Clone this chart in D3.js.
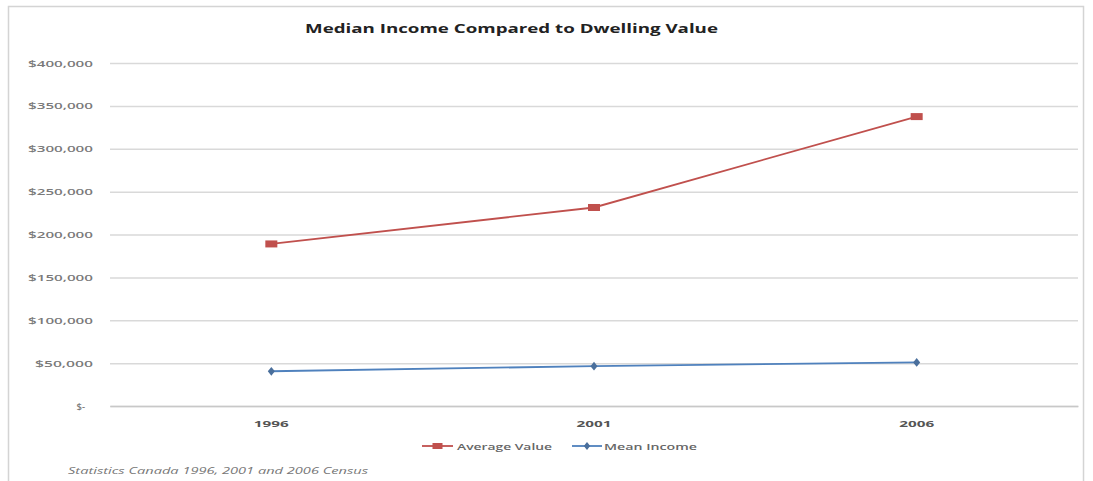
<!DOCTYPE html>
<html>
<head>
<meta charset="utf-8">
<script src="https://cdn.jsdelivr.net/npm/d3@7"></script>
<style>
  html, body { margin: 0; padding: 0; background: #ffffff; }
  svg { display: block; }
  text { font-family: "Open Sans", "Liberation Sans", sans-serif; }
</style>
</head>
<body>
<svg id="chart" width="1093" height="481"></svg>
<script>
const categories = ["1996", "2001", "2006"];
const averageValue = [189000, 231500, 337500];
const meanIncome = [40500, 46500, 50800];
const seriesNames = ["Average Value", "Mean Income"];
const yTicks = [0, 50000, 100000, 150000, 200000, 250000, 300000, 350000, 400000];
const yTickLabels = ["$-", "$50,000", "$100,000", "$150,000", "$200,000", "$250,000", "$300,000", "$350,000", "$400,000"];
const titleText = "Median Income Compared to Dwelling Value";
const sourceText = "Statistics Canada 1996, 2001 and 2006 Census";

const svg = d3.select("#chart");
const W = 1093, H = 481;
const plot = { left: 110, right: 1078, top: 63, bottom: 406 };

// outer chart border
svg.append("rect")
  .attr("x", 8.5).attr("y", 6.5)
  .attr("width", 1075).attr("height", 490)
  .attr("fill", "#ffffff").attr("stroke", "#d4d4d4").attr("stroke-width", 1.5);

const x = d3.scaleBand().domain(categories).range([plot.left, plot.right]);
const y = d3.scaleLinear().domain([0, 400000]).range([plot.bottom, plot.top]);

// gridlines
const yAxis = d3.axisLeft(y)
  .tickValues(yTicks)
  .tickSize(-(plot.right - plot.left))
  .tickFormat((d, i) => yTickLabels[i]);
const gy = svg.append("g").attr("transform", `translate(${plot.left},0)`).call(yAxis);
gy.select(".domain").remove();
gy.selectAll(".tick line").attr("stroke", "#d9d9d9").attr("stroke-width", 1.5);
gy.selectAll(".tick text")
  .attr("x", -17)
  .attr("fill", "#7a7a7a")
  .attr("font-size", 9.5)
  .attr("font-weight", "600")
  .each(function (d, i) {
    const t = d3.select(this);
    if (i > 0) {
      const w = yTickLabels[i].length === 8 ? 65 : 58;
      t.attr("textLength", w).attr("lengthAdjust", "spacingAndGlyphs");
    } else {
      t.attr("x", -25);
    }
  });

// x axis
const xAxis = d3.axisBottom(x).tickSize(0).tickPadding(14);
const gx = svg.append("g").attr("transform", `translate(0,${plot.bottom})`).call(xAxis);
gx.select(".domain").attr("stroke", "#c8c8c8").attr("stroke-width", 1.5);
gx.selectAll(".tick text")
  .attr("fill", "#555")
  .attr("font-size", 9.5)
  .attr("font-weight", "700")
  .attr("textLength", 35)
  .attr("lengthAdjust", "spacingAndGlyphs");

const cx = d => x(d) + x.bandwidth() / 2;
const line = d3.line().x((d, i) => cx(categories[i])).y(d => y(d));

const red = "#C0504D", blue = "#4F81BD";

// Average Value series
svg.append("path").datum(averageValue)
  .attr("d", line).attr("fill", "none").attr("stroke", red).attr("stroke-width", 1.8);
svg.selectAll(".mkRed").data(averageValue).enter().append("rect")
  .attr("class", "mkRed")
  .attr("x", (d, i) => cx(categories[i]) - 6)
  .attr("y", d => y(d) - 3.5)
  .attr("width", 12).attr("height", 7)
  .attr("fill", red);

// Mean Income series
svg.append("path").datum(meanIncome)
  .attr("d", line).attr("fill", "none").attr("stroke", blue).attr("stroke-width", 1.8);
svg.selectAll(".mkBlue").data(meanIncome).enter().append("path")
  .attr("class", "mkBlue")
  .attr("transform", (d, i) => `translate(${cx(categories[i])},${y(d)}) scale(1.4,1)`)
  .attr("d", d3.symbol().type(d3.symbolDiamond).size(22))
  .attr("fill", "#4a6f9c");

// title
svg.append("text")
  .attr("x", 305).attr("y", 33)
  .attr("font-size", 12.5).attr("font-weight", "700").attr("fill", "#222")
  .attr("textLength", 413).attr("lengthAdjust", "spacingAndGlyphs")
  .text(titleText);

// legend
const legend = [
  { name: seriesNames[0], color: red, x1: 422, x2: 453, tx: 457, tw: 95, type: "square" },
  { name: seriesNames[1], color: blue, x1: 572, x2: 602, tx: 604, tw: 93, type: "diamond" }
];
const ly = 446;
legend.forEach(l => {
  svg.append("line").attr("x1", l.x1).attr("x2", l.x2).attr("y1", ly).attr("y2", ly)
    .attr("stroke", l.color).attr("stroke-width", 1.8);
  const mx = (l.x1 + l.x2) / 2;
  if (l.type === "square") {
    svg.append("rect").attr("x", mx - 5).attr("y", ly - 3).attr("width", 10).attr("height", 6).attr("fill", l.color);
  } else {
    svg.append("path").attr("transform", `translate(${mx},${ly}) scale(1.4,1)`)
      .attr("d", d3.symbol().type(d3.symbolDiamond).size(18)).attr("fill", "#4a6f9c");
  }
  svg.append("text").attr("x", l.tx).attr("y", ly + 3.5)
    .attr("font-size", 9.5).attr("fill", "#666").attr("font-weight", "600")
    .attr("textLength", l.tw).attr("lengthAdjust", "spacingAndGlyphs")
    .text(l.name);
});

// source note
svg.append("text")
  .attr("x", 68).attr("y", 474)
  .attr("font-size", 9.5).attr("font-style", "italic").attr("fill", "#777")
  .attr("textLength", 300).attr("lengthAdjust", "spacingAndGlyphs")
  .text(sourceText);
</script>
</body>
</html>
